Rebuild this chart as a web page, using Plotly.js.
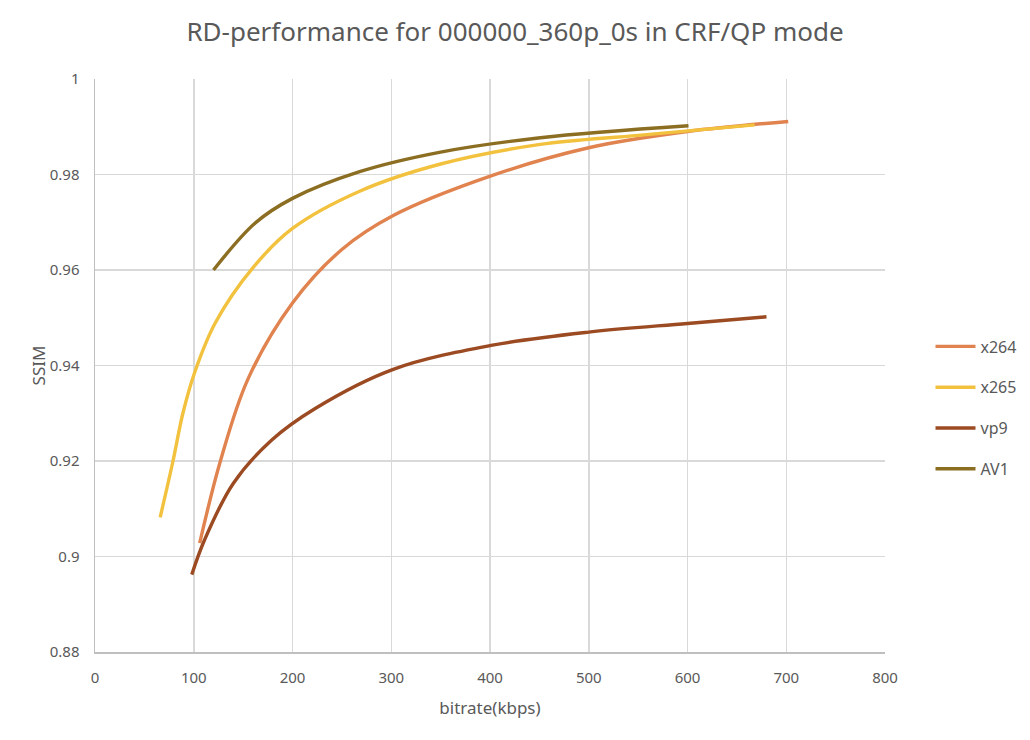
<!DOCTYPE html>
<html>
<head>
<meta charset="utf-8">
<script src="https://cdn.plot.ly/plotly-3.0.1.min.js"></script>
<style>html,body{margin:0;padding:0;background:#fff;}#chart{width:1030px;height:740px;}</style>
</head>
<body>
<div id="chart"></div>
<script>
const seriesNames = ["x264", "x265", "vp9", "AV1"];
const seriesColors = ["#E0834F", "#F2C23E", "#9B4A22", "#8C6E22"];

const x264_bitrate = [106, 127, 155, 200, 250, 302, 401, 500, 600, 702];
const x264_ssim    = [0.9028, 0.920, 0.9372, 0.9531, 0.9643, 0.9714, 0.9797, 0.9856, 0.9890, 0.9911];

const x265_bitrate = [66, 79, 89, 101, 122, 160, 200, 268, 350, 451, 550, 668];
const x265_ssim    = [0.9082, 0.920, 0.9300, 0.9386, 0.9490, 0.9605, 0.9687, 0.9765, 0.9822, 0.9863, 0.9882, 0.9904];

const vp9_bitrate = [98, 111, 140, 179, 223, 302, 401, 500, 600, 680];
const vp9_ssim    = [0.8962, 0.9035, 0.9153, 0.9244, 0.9310, 0.9392, 0.9442, 0.9470, 0.9488, 0.9502];

const av1_bitrate = [120, 162, 200, 268, 350, 451, 601];
const av1_ssim    = [0.960, 0.9698, 0.9750, 0.9806, 0.9847, 0.9877, 0.9902];

const xTicks = [0, 100, 200, 300, 400, 500, 600, 700, 800];
const yTicks = [0.88, 0.9, 0.92, 0.94, 0.96, 0.98, 1];
const yTickText = ["0.88", "0.9", "0.92", "0.94", "0.96", "0.98", "1"];

const xs = [x264_bitrate, x265_bitrate, vp9_bitrate, av1_bitrate];
const ys = [x264_ssim, x265_ssim, vp9_ssim, av1_ssim];

const traces = seriesNames.map((n, i) => ({
  type: "scatter",
  mode: "lines",
  name: n,
  legendgroup: "g" + i,
  x: xs[i],
  y: ys[i],
  line: {color: seriesColors[i], width: 3.4, shape: "spline", smoothing: 1.0}
}));

const font = "Noto Sans, Liberation Sans, sans-serif";
const layout = {
  width: 1030,
  height: 740,
  paper_bgcolor: "#ffffff",
  plot_bgcolor: "#ffffff",
  margin: {l: 95, r: 145, t: 79, b: 88, autoexpand: false},
  title: {
    text: "RD-performance for 000000_360p_0s in CRF/QP mode",
    font: {family: font, size: 26, color: "#595959"},
    x: 0.5, xref: "container", xanchor: "center",
    y: 0.957, yref: "container", yanchor: "middle"
  },
  font: {family: font, color: "#595959", size: 15},
  xaxis: {
    range: [0, 800],
    tickvals: xTicks,
    ticktext: xTicks.map(String),
    showgrid: true,
    gridcolor: "#d9d9d9",
    gridwidth: 1.5,
    showline: true,
    linecolor: "#bfbfbf",
    linewidth: 1.5,
    zeroline: false,
    ticks: "",
    ticklabelstandoff: 11,
    tickfont: {family: font, size: 15, color: "#595959"},
    title: {text: "bitrate(kbps)", font: {family: font, size: 17, color: "#595959"}, standoff: 16}
  },
  yaxis: {
    range: [0.88, 1],
    tickvals: yTicks,
    ticktext: yTickText,
    showgrid: true,
    gridcolor: "#d9d9d9",
    gridwidth: 1.5,
    showline: true,
    linecolor: "#bfbfbf",
    linewidth: 1.5,
    zeroline: false,
    ticks: "",
    ticklabelstandoff: 11,
    tickfont: {family: font, size: 15, color: "#595959"},
    title: {text: "SSIM", font: {family: font, size: 17, color: "#595959"}, standoff: 0}
  },
  legend: {
    x: 1.0576, xanchor: "left",
    y: 0.4258, yanchor: "middle",
    font: {family: font, size: 16, color: "#595959"},
    tracegroupgap: 17,
    itemwidth: 40,
    bgcolor: "rgba(0,0,0,0)"
  },
  showlegend: true
};

Plotly.newPlot("chart", traces, layout, {displayModeBar: false, staticPlot: true});
</script>
</body>
</html>
